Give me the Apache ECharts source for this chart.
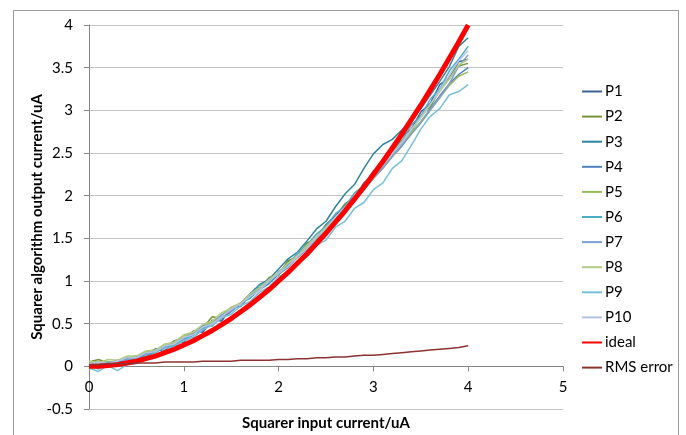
<!DOCTYPE html>
<html>
<head>
<meta charset="utf-8">
<title>Squarer algorithm</title>
<script src="https://cdn.jsdelivr.net/npm/echarts@6/dist/echarts.min.js"></script>
<style>
html, body { margin: 0; padding: 0; background: #fff; }
#main { width: 686px; height: 435px; }
</style>
</head>
<body>
<div id="main"></div>
<script>
// input current (uA)
var inputCurrent = [0,0.1,0.2,0.3,0.4,0.5,0.6,0.7,0.8,0.9,1,1.1,1.2,1.3,1.4,1.5,1.6,1.7,1.8,1.9,2,2.1,2.2,2.3,2.4,2.5,2.6,2.7,2.8,2.9,3,3.1,3.2,3.3,3.4,3.5,3.6,3.7,3.8,3.9,4];

var p1 = [0.02,0.05,0.01,0.07,0.05,0.12,0.1,0.2,0.18,0.29,0.28,0.41,0.4,0.54,0.53,0.69,0.7,0.84,0.9,1.01,1.08,1.22,1.3,1.44,1.51,1.66,1.76,1.9,1.98,2.15,2.24,2.42,2.5,2.69,2.78,2.98,3.08,3.3,3.38,3.57,3.6];
var p2 = [0.05,0.08,0.04,0.06,0.09,0.12,0.14,0.2,0.22,0.3,0.33,0.41,0.45,0.58,0.56,0.68,0.73,0.85,0.91,1.04,1.07,1.24,1.28,1.44,1.49,1.66,1.72,1.9,1.97,2.14,2.21,2.38,2.48,2.65,2.75,2.94,3.04,3.24,3.37,3.52,3.55];
var p3 = [0.03,0.01,0.05,0.04,0.09,0.09,0.15,0.2,0.21,0.29,0.32,0.4,0.44,0.53,0.59,0.68,0.74,0.85,0.96,1.02,1.14,1.26,1.34,1.47,1.61,1.7,1.87,2.02,2.13,2.32,2.49,2.6,2.66,2.77,2.89,3.02,3.18,3.34,3.51,3.75,3.85];
var p4 = [0,0.02,0.02,0.05,0.06,0.1,0.12,0.17,0.23,0.24,0.31,0.38,0.42,0.51,0.56,0.64,0.74,0.8,0.9,0.97,1.08,1.16,1.28,1.37,1.5,1.6,1.72,1.83,1.96,2.07,2.2,2.32,2.46,2.58,2.73,2.86,3.02,3.17,3.31,3.42,3.5];
var p5 = [0.04,0.06,0.04,0.07,0.11,0.11,0.17,0.18,0.26,0.28,0.36,0.39,0.48,0.52,0.6,0.69,0.74,0.84,0.9,1.01,1.08,1.2,1.28,1.41,1.5,1.61,1.73,1.84,1.97,2.08,2.2,2.33,2.46,2.6,2.74,2.87,3.01,3.15,3.29,3.4,3.45];
var p6 = [0.01,-0.03,0.04,0,0.08,0.09,0.13,0.16,0.22,0.25,0.32,0.36,0.48,0.47,0.6,0.65,0.74,0.8,0.95,0.98,1.11,1.19,1.33,1.42,1.55,1.64,1.79,1.87,2.03,2.12,2.29,2.37,2.55,2.64,2.83,2.93,3.13,3.25,3.46,3.6,3.75];
var p7 = [0.02,0.04,0.03,0.07,0.07,0.12,0.14,0.19,0.22,0.29,0.32,0.4,0.45,0.5,0.6,0.65,0.74,0.84,0.91,1.01,1.09,1.2,1.29,1.38,1.51,1.61,1.75,1.85,1.97,2.1,2.21,2.33,2.47,2.59,2.72,2.85,3,3.15,3.31,3.52,3.65];
var p8 = [0.06,0.04,0.08,0.07,0.12,0.12,0.18,0.19,0.26,0.28,0.37,0.4,0.49,0.53,0.63,0.68,0.74,0.85,0.92,1.02,1.1,1.21,1.3,1.42,1.52,1.63,1.74,1.86,1.98,2.11,2.24,2.36,2.5,2.63,2.78,2.92,3.07,3.22,3.37,3.53,3.6];
var p9 = [-0.02,-0.06,0.01,-0.05,0.02,0.03,0.12,0.1,0.21,0.23,0.3,0.34,0.43,0.48,0.57,0.61,0.71,0.76,0.87,0.93,1.05,1.1,1.23,1.28,1.42,1.48,1.63,1.7,1.85,1.92,2.07,2.15,2.32,2.41,2.59,2.78,2.93,3.02,3.18,3.22,3.3];
var p10 = [0.03,0.05,0.03,0.06,0.1,0.1,0.16,0.17,0.24,0.26,0.34,0.37,0.46,0.5,0.58,0.67,0.73,0.82,0.89,1,1.09,1.17,1.29,1.38,1.51,1.61,1.75,1.86,1.99,2.11,2.23,2.36,2.49,2.62,2.77,2.91,3.07,3.24,3.41,3.58,3.7];
var ideal = [0,0,0.01,0.02,0.04,0.06,0.09,0.12,0.16,0.2,0.25,0.3,0.36,0.42,0.49,0.56,0.64,0.72,0.81,0.9,1,1.1,1.21,1.32,1.44,1.56,1.69,1.82,1.96,2.1,2.25,2.4,2.56,2.72,2.89,3.06,3.24,3.42,3.61,3.8,4];
var rmsError = [0.02,0.02,0.03,0.03,0.03,0.04,0.04,0.04,0.05,0.05,0.05,0.05,0.06,0.06,0.06,0.06,0.07,0.07,0.07,0.07,0.08,0.08,0.09,0.09,0.1,0.1,0.11,0.11,0.12,0.13,0.13,0.14,0.15,0.16,0.17,0.18,0.19,0.2,0.21,0.22,0.24];

var seriesNames = ['P1','P2','P3','P4','P5','P6','P7','P8','P9','P10','ideal','RMS error'];
var seriesValues = [p1,p2,p3,p4,p5,p6,p7,p8,p9,p10,ideal,rmsError];
var seriesColors = ['#3b6396','#77933c','#31849b','#4f81bd','#9bbb59','#4bacc6','#7f9fd0','#b3cb83','#78c0d8','#b4c4e2','#ff0000','#8b3331'];

var fontName = 'Lato';
var yMin = -0.5, yMax = 4;
var gridTop = 25, gridBottom = 26, chartHeight = 435;

function pairs(values) {
	var list = [];
	for (var i = 0; i < inputCurrent.length; i++) {
		list.push([inputCurrent[i], values[i]]);
	}
	return list;
}

function buildSeries() {
	var list = [];
	for (var i = 0; i < seriesNames.length; i++) {
		var width = 1.5;
		if (seriesNames[i] == 'ideal') {
			width = 5;
		}
		list.push({
			name: seriesNames[i],
			type: 'line',
			data: pairs(seriesValues[i]),
			symbol: 'none',
			color: seriesColors[i],
			lineStyle: { width: width, color: seriesColors[i] },
			animation: false
		});
	}
	return list;
}

// x axis sits on y = 0, lift it from the grid bottom
var plotHeight = chartHeight - gridTop - gridBottom;
var zeroLift = plotHeight * (0 - yMin) / (yMax - yMin);

var myChart = echarts.init(document.getElementById('main'));
var option = {
	backgroundColor: '#fff',
	textStyle: { fontFamily: fontName, color: '#000' },
	grid: { left: 89, right: 123, top: gridTop, bottom: gridBottom, containLabel: false, outerBoundsMode: 'none' },
	legend: {
		orient: 'vertical',
		left: 576,
		top: 79,
		itemWidth: 20,
		itemHeight: 14,
		itemGap: 10.1,
		data: seriesNames,
		itemStyle: { opacity: 0 },
		textStyle: { fontFamily: fontName, fontSize: 15, color: '#000', padding: [0, 0, 0, -2] }
	},
	xAxis: {
		type: 'value',
		min: 0,
		max: 5,
		interval: 1,
		offset: -zeroLift,
		name: 'Squarer input current/uA',
		nameLocation: 'middle',
		nameGap: 49,
		nameMoveOverlap: false,
		nameTextStyle: { fontFamily: fontName, fontSize: 15, fontWeight: 'bold', color: '#000' },
		axisLine: { onZero: false, lineStyle: { color: '#868686', width: 1 } },
		axisTick: { show: true, length: 5, lineStyle: { color: '#868686' } },
		axisLabel: { fontFamily: fontName, fontSize: 15, color: '#000', margin: 13 },
		splitLine: { show: false }
	},
	yAxis: {
		type: 'value',
		min: yMin,
		max: yMax,
		interval: 0.5,
		name: 'Squarer algorithm output current/uA',
		nameLocation: 'middle',
		nameGap: 44,
		nameMoveOverlap: false,
		nameTextStyle: { fontFamily: fontName, fontSize: 15, fontWeight: 'bold', color: '#000' },
		axisLine: { show: true, lineStyle: { color: '#868686', width: 1 } },
		axisTick: { show: true, length: 5, lineStyle: { color: '#868686' } },
		axisLabel: { fontFamily: fontName, fontSize: 15, color: '#000', margin: 16 },
		splitLine: { show: true, lineStyle: { color: '#c4c4c4', width: 1 } }
	},
	graphic: [{
		type: 'rect',
		shape: { x: 13.5, y: 10.5, width: 665, height: 440 },
		style: { fill: null, stroke: '#9a9a9a', lineWidth: 1 },
		silent: true,
		z: -1
	}],
	series: buildSeries()
};
myChart.setOption(option);
</script>
</body>
</html>
